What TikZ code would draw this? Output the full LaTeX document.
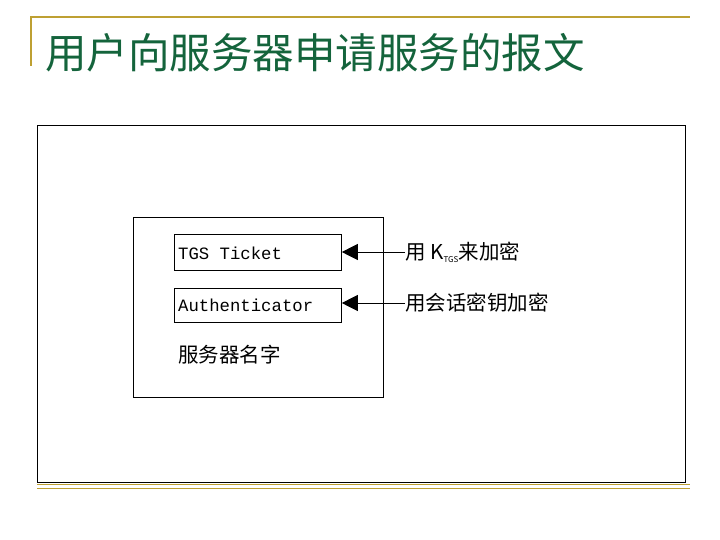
\documentclass[tikz,border=0pt]{standalone}
\usepackage{fontspec}
\newfontfamily\cjk{Noto Sans CJK SC}
\setmonofont{Liberation Mono}
\usetikzlibrary{arrows.meta}
\definecolor{gold}{RGB}{190,160,50}
\definecolor{tgreen}{RGB}{20,100,60}
\tikzset{box/.style={draw,line width=0.8pt,inner sep=0pt},
lab/.style={anchor=west,inner sep=0pt,font=\cjk\fontsize{20.5}{20.5}\selectfont},
mono/.style={anchor=west,inner sep=0pt,font=\ttfamily\fontsize{17.3}{17.3}\selectfont},
arr/.style={line width=0.8pt,-{Triangle[length=16pt,width=16pt]}}}
\begin{document}
\begin{tikzpicture}[x=1pt,y=-1pt]
\useasboundingbox (0,0) rectangle (720,539);
\draw[gold,line width=2pt] (30,17) -- (690,17);
\draw[gold,line width=2pt] (31,16) -- (31,66);
\node[anchor=west,inner sep=0pt,text=tgreen,font=\cjk\fontsize{41.5}{41.5}\selectfont] (title) at (45,53) {用户向服务器申请服务的报文};
\draw[gold,line width=1.2pt] (37,484.5) -- (690,484.5);
\draw[gold,line width=0.6pt] (37,488) -- (690,488);
\node[box,line width=0.5pt,minimum width=648pt,minimum height=357pt,anchor=north west] (outer) at (37,125) {};
\node[box,minimum width=250pt,minimum height=180pt,anchor=north west] (inner) at (133,217) {};
\node[box,minimum width=167pt,minimum height=36pt,anchor=north west] (tgs) at (174,234) {};
\node[mono] at (178,253) {TGS Ticket};
\node[box,minimum width=167pt,minimum height=34pt,anchor=north west] (auth) at (174,288) {};
\node[mono] at (178,305) {Authenticator};
\node[lab] (name) at (178,355) {服务器名字};
\node[lab] (l1) at (405,252) {用 K\textsubscript{\footnotesize TGS}来加密};
\node[lab] (l2) at (405,303) {用会话密钥加密};
\draw[arr] (l1.west) -- (tgs.east |- l1.west);
\draw[arr] (l2.west) -- (auth.east |- l2.west);
\end{tikzpicture}
\end{document}
